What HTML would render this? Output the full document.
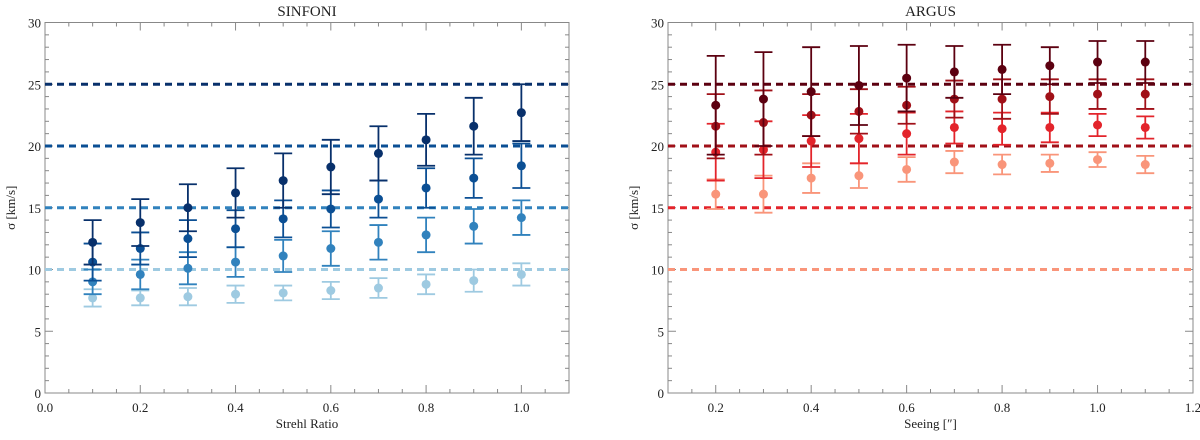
<!DOCTYPE html>
<html><head><meta charset="utf-8"><style>
body{margin:0;background:#fff;}
svg text{font-family:"Liberation Serif",serif;fill:#222;}
</style></head><body>
<svg id="c" width="1200" height="435" xmlns="http://www.w3.org/2000/svg"></svg>
<script>
const leftX=[0.1,0.2,0.3,0.4,0.5,0.6,0.7,0.8,0.9,1.0];
const leftS25=[12.2,13.8,15.0,16.2,17.2,18.3,19.4,20.5,21.6,22.7];
const leftE25=[1.8,1.9,1.9,2.0,2.2,2.2,2.2,2.1,2.3,2.3];
const leftS20=[10.6,11.7,12.5,13.3,14.1,14.9,15.7,16.6,17.4,18.4];
const leftE20=[1.5,1.3,1.5,1.5,1.5,1.5,1.5,1.6,1.6,1.8];
const leftS15=[9.0,9.6,10.1,10.6,11.1,11.7,12.2,12.8,13.5,14.2];
const leftE15=[1.0,1.2,1.3,1.2,1.3,1.4,1.4,1.4,1.4,1.4];
const leftS10=[7.7,7.7,7.8,8.0,8.1,8.3,8.5,8.8,9.1,9.6];
const leftE10=[0.7,0.6,0.7,0.7,0.6,0.7,0.8,0.8,0.9,0.9];
const rightX=[0.2,0.3,0.4,0.5,0.6,0.7,0.8,0.9,1.0,1.1];
const rightS25=[23.3,23.8,24.4,24.9,25.5,26.0,26.2,26.5,26.8,26.8];
const rightE25=[4.0,3.8,3.6,3.2,2.7,2.1,2.0,1.5,1.7,1.7];
const rightS20=[21.6,21.9,22.5,22.8,23.3,23.8,23.8,24.0,24.2,24.2];
const rightE20=[2.6,2.6,1.7,1.8,1.5,1.5,1.6,1.4,1.2,1.2];
const rightS15=[19.5,19.7,20.4,20.6,21.0,21.5,21.4,21.5,21.7,21.5];
const rightE15=[2.3,2.3,2.1,2.0,1.7,1.3,1.3,1.2,0.9,0.9];
const rightS10=[16.1,16.1,17.4,17.6,18.1,18.7,18.5,18.6,18.9,18.5];
const rightE10=[1.2,1.5,1.2,1.0,1.0,0.9,0.8,0.7,0.6,0.7];
const refLevels=[25,20,15,10];
const yTicks=[0,5,10,15,20,25,30];
const leftXTicks=[0.0,0.2,0.4,0.6,0.8,1.0];
const rightXTicks=[0.2,0.4,0.6,0.8,1.0,1.2];

const svg=document.getElementById('c');const NS='http://www.w3.org/2000/svg';
function mk(t,a,p){const e=document.createElementNS(NS,t);for(const k in a)e.setAttribute(k,a[k]);(p||svg).appendChild(e);return e;}
function panel(o){
  const g=mk('g',{});
  
  
  const X=v=>o.x0+(v-o.xmin)/(o.xmax-o.xmin)*(o.x1-o.x0);
  const Y=v=>393-(v/30)*(393-22.5);
  const fr=mk('rect',{x:o.x0,y:22.5,width:o.x1-o.x0,height:393-22.5,fill:'none',stroke:'#888','stroke-width':1},g);
  
  for(let v=0;v<=30;v++){const L=v%5==0?8:4;
    mk('line',{x1:o.x0,x2:o.x0+L,y1:Y(v),y2:Y(v),stroke:'#888'},g);
    mk('line',{x1:o.x1,x2:o.x1-L,y1:Y(v),y2:Y(v),stroke:'#888'},g);}
  for(let v=o.xmin;v<=o.xmax+1e-9;v+=0.05){const m=Math.abs(Math.round(v*5)-v*5)<1e-6;const L=m?8:4;
    mk('line',{x1:X(v),x2:X(v),y1:393,y2:393-L,stroke:'#888'},g);
    mk('line',{x1:X(v),x2:X(v),y1:22.5,y2:22.5+L,stroke:'#888'},g);}
  yTicks.forEach(v=>{const t=mk('text',{x:o.x0-4,y:Y(v)+5,'text-anchor':'end','font-size':13},g);t.textContent=v;
    });
  o.xt.forEach(v=>{const t=mk('text',{x:X(v),y:412,'text-anchor':'middle','font-size':13},g);t.textContent=v.toFixed(1);
    });
  const tt=mk('text',{x:(o.x0+o.x1)/2,y:16,'text-anchor':'middle','font-size':15},g);tt.textContent=o.title;
  
  const xl=mk('text',{x:(o.x0+o.x1)/2,y:428,'text-anchor':'middle','font-size':13},g);xl.textContent=o.xlabel;
  
  const yl=mk('text',{x:0,y:0,'text-anchor':'middle','font-size':13,transform:`translate(${o.x0-30},${Y(15)}) rotate(-90)`},g);yl.textContent='σ [km/s]';
  
  refLevels.forEach((v,i)=>{const l=mk('line',{x1:o.x0,x2:o.x1,y1:Y(v),y2:Y(v),stroke:o.cols[i],'stroke-width':3,'stroke-dasharray':'7,5'},g);
    });
  for(let i=3;i>=0;i--){const s=o.series[i],e=o.errs[i],c=o.cols[i];
    o.xs.forEach((xv,j)=>{const cx=X(xv);
      const b=mk('line',{x1:cx,x2:cx,y1:Y(s[j]+e[j]),y2:Y(s[j]-e[j]),stroke:c,'stroke-width':1.8},g);
      
      [s[j]+e[j],s[j]-e[j]].forEach(v=>mk('line',{x1:cx-9,x2:cx+9,y1:Y(v),y2:Y(v),stroke:c,'stroke-width':1.8},g));
      const p=mk('circle',{cx:cx,cy:Y(s[j]),r:4.5,fill:c},g);
      });}
}
panel({name:'sinfoni-panel',title:'SINFONI',xlabel:'Strehl Ratio',x0:45,x1:569,xmin:0,xmax:1.1,xt:leftXTicks,xs:leftX,
  series:[leftS25,leftS20,leftS15,leftS10],errs:[leftE25,leftE20,leftE15,leftE10],cols:['#08306b','#0b4f94','#3182bd','#9ecae1']});
panel({name:'argus-panel',title:'ARGUS',xlabel:'Seeing [″]',x0:668,x1:1193,xmin:0.1,xmax:1.2,xt:rightXTicks,xs:rightX,
  series:[rightS25,rightS20,rightS15,rightS10],errs:[rightE25,rightE20,rightE15,rightE10],cols:['#5c0010','#a01018','#e3242b','#f9957a']});
</script>
</body></html>
